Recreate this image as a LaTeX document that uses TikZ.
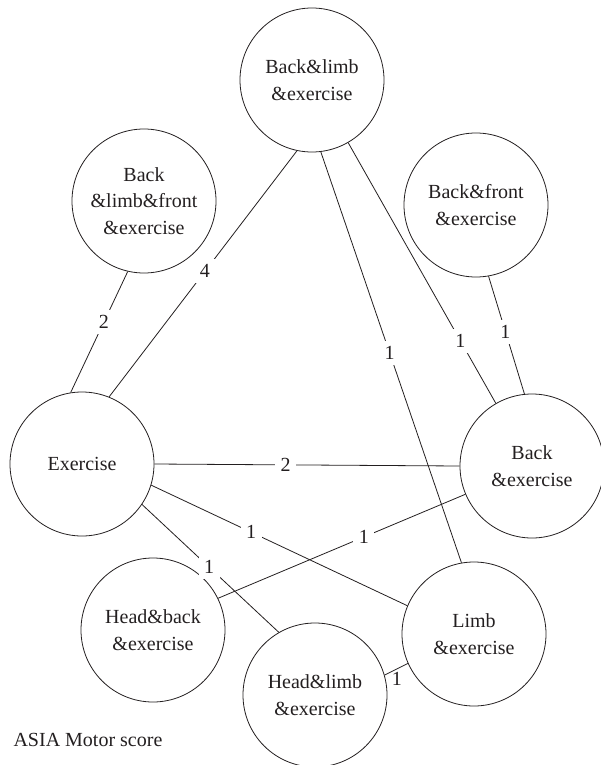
\documentclass[tikz,border=0pt]{standalone}
\usepackage{fontspec}
\setmainfont{Liberation Serif}
\definecolor{ink}{RGB}{35,31,32}
\begin{document}
\begin{tikzpicture}[x=1pt,y=-1pt,color=ink]
\tikzstyle{vx} = [circle,draw=ink,line width=0.8pt,minimum size=144pt,inner sep=0pt,align=center,font=\fontsize{20}{26.5}\selectfont] %vertex
\tikzstyle{ue} = [line width=0.8pt] %undirected edge
\tikzstyle{wt} = [fill=white,inner sep=5.5pt,font=\fontsize{20}{24}\selectfont] %weight
\useasboundingbox (0,0) rectangle (600,765);
\node[vx](vble)at(312,80){Back\&limb\\\&exercise};
\node[vx](vblf)at(144,201){Back\\\&limb\&front\\\&exercise};
\node[vx](vbf)at(476,205){Back\&front\\\&exercise};
\node[vx](vex)at(82,464){Exercise};
\node[vx](vbe)at(532,466){Back\\\&exercise};
\node[vx](vhb)at(153,630){Head\&back\\\&exercise};
\node[vx](vle)at(474,634){Limb\\\&exercise};
\node[vx](vhl)at(315,695){Head\&limb\\\&exercise};
\draw[ue](vblf.-103)--node[wt,pos=.42]{2}(vex.99);
\draw[ue](vble.-102)--node[wt,pos=.49]{4}(vex.68);
\draw[ue](vble.-83)--node[wt,pos=.49]{1}(vle.100);
\draw[ue](vble.-60)--node[wt,pos=.76]{1}(vbe.120);
\draw[ue](vbf.-80)--node[wt,pos=.47]{1}(vbe.96);
\draw[ue](vex.east)--node[wt,pos=.43]{2}(vbe.west);
\draw[ue](vex.-17)--node[wt,pos=.39]{1}(vle.157);
\draw[ue](vex.-34)--node[wt,pos=.49]{1}(vhl.120);
\draw[ue](vhb.26)--node[wt,pos=.59]{1}(vbe.-157);
\draw[ue](vhl.16)--node[below right=-2pt,inner sep=2pt,font=\fontsize{20}{24}\selectfont,pos=.3]{1}(vle.-156);
\node[anchor=base west,font=\fontsize{20}{24}\selectfont](cap)at(10,746){ASIA Motor score};
\end{tikzpicture}
\end{document}
